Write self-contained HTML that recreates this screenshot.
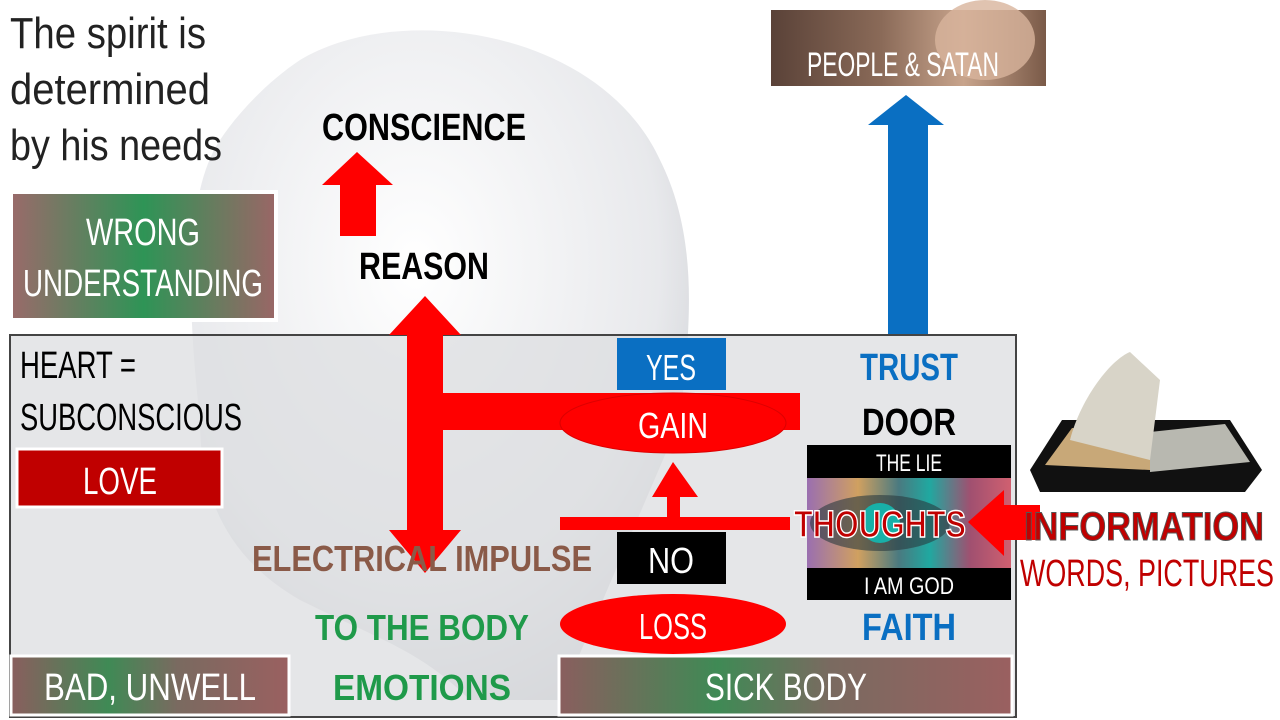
<!DOCTYPE html>
<html><head><meta charset="utf-8"><style>
html,body{margin:0;padding:0;background:#fff;}
svg{display:block}
text{font-family:"Liberation Sans Narrow","Liberation Sans",sans-serif;}
</style></head><body>
<svg width="1280" height="720" viewBox="0 0 1280 720" xmlns="http://www.w3.org/2000/svg">
<defs>
<radialGradient id="head" cx="0.45" cy="0.35" r="0.7">
<stop offset="0" stop-color="#ffffff"/><stop offset="0.7" stop-color="#e8e9ec"/><stop offset="1" stop-color="#c8cacf"/>
</radialGradient>
<linearGradient id="gbox" x1="0" x2="1" y1="0" y2="0">
<stop offset="0" stop-color="#9a6a6a"/><stop offset="0.5" stop-color="#2e9456"/><stop offset="1" stop-color="#9a6666"/>
</linearGradient>
<linearGradient id="gbox2" x1="0" x2="1">
<stop offset="0" stop-color="#8a5e5e"/><stop offset="0.35" stop-color="#3f8a55"/><stop offset="0.6" stop-color="#7a6a60"/><stop offset="1" stop-color="#9a6060"/>
</linearGradient>
<linearGradient id="ppl" x1="0" x2="1">
<stop offset="0" stop-color="#5a4238"/><stop offset="0.4" stop-color="#8a6a58"/><stop offset="0.7" stop-color="#c8a48c"/><stop offset="1" stop-color="#7a5a48"/>
</linearGradient>
<linearGradient id="eye" x1="0" x2="1">
<stop offset="0" stop-color="#9a6fb0"/><stop offset="0.25" stop-color="#d0a060"/><stop offset="0.45" stop-color="#4a7a80"/><stop offset="0.6" stop-color="#20a8a0"/><stop offset="0.8" stop-color="#a05070"/><stop offset="1" stop-color="#d06070"/>
</linearGradient>
</defs>

<path d="M300 60 C400 0 600 30 660 160 C700 240 690 330 680 420 L560 700 L470 700 C420 650 380 640 300 600 C230 560 200 500 200 420 C190 330 180 200 220 140 C240 110 270 80 300 60 Z" fill="url(#head)"/>

<text x="10" y="48" font-size="44" fill="#222" textLength="196" lengthAdjust="spacingAndGlyphs">The spirit is</text>
<text x="10" y="104" font-size="44" fill="#222" textLength="200" lengthAdjust="spacingAndGlyphs">determined</text>
<text x="10" y="160" font-size="44" fill="#222" textLength="212" lengthAdjust="spacingAndGlyphs">by his needs</text>

<rect x="11" y="192" width="265" height="128" fill="url(#gbox)" stroke="#fff" stroke-width="4"/>
<text x="143" y="245" font-size="38" fill="#fff" text-anchor="middle" textLength="114" lengthAdjust="spacingAndGlyphs">WRONG</text>
<text x="143" y="296" font-size="38" fill="#fff" text-anchor="middle" textLength="240" lengthAdjust="spacingAndGlyphs">UNDERSTANDING</text>

<text x="424" y="140" font-size="38" font-weight="bold" fill="#000" text-anchor="middle" textLength="204" lengthAdjust="spacingAndGlyphs">CONSCIENCE</text>
<text x="424" y="279" font-size="38" font-weight="bold" fill="#000" text-anchor="middle" textLength="130" lengthAdjust="spacingAndGlyphs">REASON</text>

<polygon points="340,236 376,236 376,185 393,185 357,152 322,185 340,185" fill="#f00"/>

<polygon points="888,335 928,335 928,125 944,125 906,95 868,125 888,125" fill="#0a6fc2"/>

<rect x="771" y="10" width="275" height="76" fill="url(#ppl)"/>
<ellipse cx="985" cy="40" rx="50" ry="40" fill="#d8b49c" opacity="0.8"/>
<text x="903" y="76" font-size="34" fill="#fff" text-anchor="middle" textLength="192" lengthAdjust="spacingAndGlyphs">PEOPLE &amp; SATAN</text>

<rect x="10" y="335" width="1006" height="382" fill="#dcdde0" fill-opacity="0.75" stroke="#444" stroke-width="2"/>

<text x="20" y="378" font-size="38" fill="#000" textLength="116" lengthAdjust="spacingAndGlyphs">HEART =</text>
<text x="20" y="430" font-size="38" fill="#000" textLength="222" lengthAdjust="spacingAndGlyphs">SUBCONSCIOUS</text>
<rect x="17" y="449" width="205" height="58" fill="#c00000" stroke="#fff" stroke-width="3"/>
<text x="120" y="494" font-size="38" fill="#fff" text-anchor="middle" textLength="74" lengthAdjust="spacingAndGlyphs">LOVE</text>

<polygon points="407,530 389,530 425,573 461,530 443,530 443,430 800,430 800,393 443,393 443,335 461,335 425,296 389,335 407,335" fill="#f00"/>

<rect x="617" y="338" width="109" height="52" fill="#0a6fc2"/>
<text x="671" y="380" font-size="36" fill="#fff" text-anchor="middle" textLength="50" lengthAdjust="spacingAndGlyphs">YES</text>
<ellipse cx="673" cy="423" rx="113" ry="30" fill="#f00" stroke="#d00" stroke-width="1"/>
<text x="673" y="438" font-size="36" fill="#fff" text-anchor="middle" textLength="70" lengthAdjust="spacingAndGlyphs">GAIN</text>

<rect x="560" y="517" width="230" height="13" fill="#f00"/>
<polygon points="667,517 680,517 680,497 698,497 673,462 652,497 667,497" fill="#f00"/>

<rect x="617" y="532" width="109" height="52" fill="#000"/>
<text x="671" y="573" font-size="36" fill="#fff" text-anchor="middle" textLength="46" lengthAdjust="spacingAndGlyphs">NO</text>
<ellipse cx="673" cy="624" rx="113" ry="30" fill="#f00"/>
<text x="673" y="639" font-size="36" fill="#fff" text-anchor="middle" textLength="68" lengthAdjust="spacingAndGlyphs">LOSS</text>

<text x="422" y="571" font-size="36" font-weight="bold" fill="#8a5a48" text-anchor="middle" textLength="340" lengthAdjust="spacingAndGlyphs">ELECTRICAL IMPULSE</text>
<text x="422" y="640" font-size="36" font-weight="bold" fill="#1f9a4a" text-anchor="middle" textLength="214" lengthAdjust="spacingAndGlyphs">TO THE BODY</text>
<text x="422" y="700" font-size="36" font-weight="bold" fill="#1f9a4a" text-anchor="middle" textLength="178" lengthAdjust="spacingAndGlyphs">EMOTIONS</text>

<text x="909" y="380" font-size="38" font-weight="bold" fill="#0a6fc2" text-anchor="middle" textLength="98" lengthAdjust="spacingAndGlyphs">TRUST</text>
<text x="909" y="435" font-size="38" font-weight="bold" fill="#000" text-anchor="middle" textLength="94" lengthAdjust="spacingAndGlyphs">DOOR</text>
<text x="909" y="640" font-size="38" font-weight="bold" fill="#0a6fc2" text-anchor="middle" textLength="94" lengthAdjust="spacingAndGlyphs">FAITH</text>

<rect x="807" y="478" width="204" height="90" fill="url(#eye)"/>
<ellipse cx="880" cy="523" rx="70" ry="28" fill="#2a3a40" opacity="0.6"/>
<circle cx="880" cy="523" r="20" fill="#18b0a8"/>
<rect x="807" y="445" width="204" height="33" fill="#000"/>
<text x="909" y="471" font-size="24" fill="#fff" text-anchor="middle" textLength="66" lengthAdjust="spacingAndGlyphs">THE LIE</text>
<rect x="807" y="568" width="204" height="32" fill="#000"/>
<text x="909" y="594" font-size="24" fill="#fff" text-anchor="middle" textLength="90" lengthAdjust="spacingAndGlyphs">I AM GOD</text>
<text x="880" y="537" font-size="38" font-weight="bold" fill="#c00000" stroke="#fff" stroke-width="1.5" text-anchor="middle" textLength="172" lengthAdjust="spacingAndGlyphs">THOUGHTS</text>

<polygon points="968,522 1004,490 1004,505 1040,505 1040,540 1004,540 1004,556" fill="#f00"/>

<path d="M1030 470 L1062 420 L1230 420 L1262 470 L1245 492 L1040 492 Z" fill="#111"/>
<path d="M1045 465 L1072 428 L1150 432 L1150 470 Z" fill="#c8a878"/>
<path d="M1150 432 L1225 424 L1250 462 L1150 472 Z" fill="#b8b8b0"/>
<path d="M1070 440 C1080 400 1110 360 1130 352 L1160 380 L1150 460 Z" fill="#d8d4c8"/>
<text x="1144" y="540" font-size="40" font-weight="bold" fill="#c00000" stroke="#555" stroke-width="1" text-anchor="middle" textLength="240" lengthAdjust="spacingAndGlyphs">INFORMATION</text>
<text x="1147" y="586" font-size="38" fill="#c00000" text-anchor="middle" textLength="254" lengthAdjust="spacingAndGlyphs">WORDS, PICTURES</text>

<rect x="11" y="656" width="278" height="59" fill="url(#gbox2)" stroke="#fff" stroke-width="3"/>
<text x="150" y="700" font-size="38" fill="#fff" text-anchor="middle" textLength="212" lengthAdjust="spacingAndGlyphs">BAD, UNWELL</text>
<rect x="559" y="656" width="453" height="59" fill="url(#gbox2)" stroke="#fff" stroke-width="3"/>
<text x="786" y="700" font-size="38" fill="#fff" text-anchor="middle" textLength="162" lengthAdjust="spacingAndGlyphs">SICK BODY</text>
</svg>
</body></html>
